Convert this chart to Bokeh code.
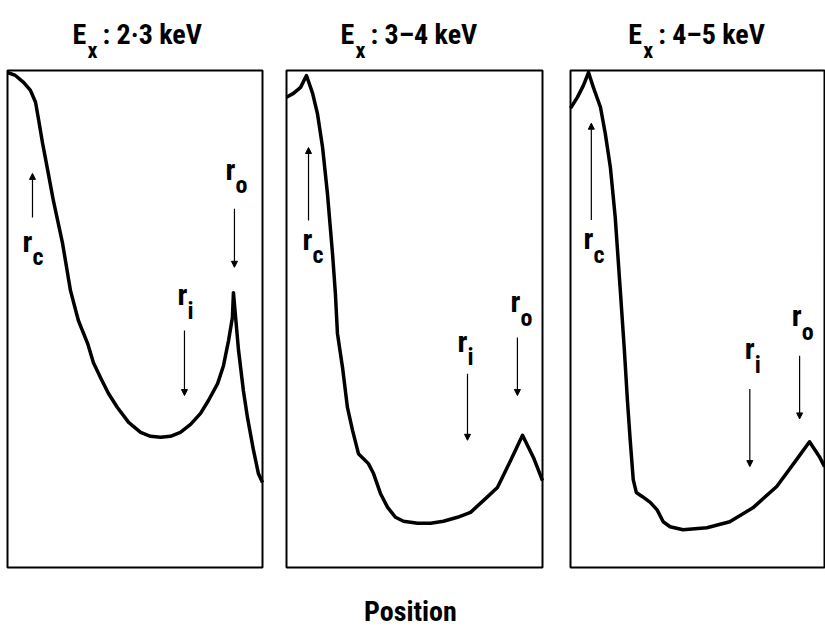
import numpy as np
from bokeh.plotting import figure
from bokeh.models import Range1d, ColumnDataSource, Arrow, NormalHead
from bokeh.layouts import row
from bokeh.core.properties import value
from bokeh.embed import file_html
from bokeh.resources import INLINE

# ---------------- data (normalised position / intensity) ----
energy_labels = ["2·3 keV", "3–4 keV", "4–5 keV"]
x_label = "Position"

pos_1 = [0.0, 0.031, 0.063, 0.090, 0.110, 0.122, 0.137, 0.157, 0.180, 0.216, 0.247,
         0.278, 0.314, 0.337, 0.365, 0.396, 0.431, 0.475, 0.522, 0.561, 0.600, 0.639,
         0.678, 0.718, 0.757, 0.788, 0.824, 0.847, 0.867, 0.882, 0.886,
         0.906, 0.925, 0.941, 0.965, 0.984, 1.0]
int_1 = [0.996, 0.990, 0.976, 0.960, 0.936, 0.901, 0.855, 0.801, 0.738, 0.652, 0.557,
         0.497, 0.451, 0.412, 0.382, 0.350, 0.322, 0.292, 0.272, 0.264, 0.262, 0.264,
         0.272, 0.288, 0.310, 0.336, 0.370, 0.406, 0.457, 0.503, 0.553,
         0.437, 0.356, 0.302, 0.235, 0.189, 0.171]

pos_2 = [0.0, 0.027, 0.055, 0.078, 0.102, 0.121, 0.141, 0.160, 0.180, 0.191, 0.199,
         0.219, 0.238, 0.258, 0.281, 0.320, 0.340, 0.367, 0.395, 0.426, 0.457, 0.512,
         0.563, 0.613, 0.668, 0.719, 0.770, 0.824, 0.875, 0.922, 0.965, 1.0]
int_2 = [0.946, 0.954, 0.966, 0.990, 0.954, 0.913, 0.845, 0.752, 0.630, 0.551, 0.471,
         0.402, 0.322, 0.276, 0.229, 0.209, 0.189, 0.149, 0.121, 0.101, 0.093, 0.089,
         0.089, 0.093, 0.101, 0.111, 0.135, 0.161, 0.215, 0.266, 0.221, 0.175]

pos_3 = [0.0, 0.027, 0.051, 0.071, 0.090, 0.118, 0.137, 0.157, 0.176, 0.196, 0.212,
         0.224, 0.235, 0.247, 0.259, 0.282, 0.314, 0.341, 0.365, 0.392, 0.443, 0.537,
         0.627, 0.718, 0.812, 0.890, 0.941, 0.980, 1.0]
int_3 = [0.924, 0.946, 0.970, 0.996, 0.966, 0.926, 0.873, 0.805, 0.705, 0.558, 0.438,
         0.337, 0.257, 0.177, 0.151, 0.143, 0.131, 0.116, 0.092, 0.082, 0.076, 0.080,
         0.092, 0.120, 0.163, 0.217, 0.253, 0.223, 0.203]

radius_names = ["c", "i", "o"]
# arrow position and extent for r_c, r_i, r_o in each panel
arrow_x_1 = [0.098, 0.694, 0.890]
arrow_from_1 = [0.704, 0.477, 0.722]
arrow_to_1 = [0.793, 0.346, 0.604]
arrow_x_2 = [0.086, 0.707, 0.902]
arrow_from_2 = [0.698, 0.390, 0.463]
arrow_to_2 = [0.845, 0.256, 0.346]
arrow_x_3 = [0.082, 0.706, 0.902]
arrow_from_3 = [0.699, 0.359, 0.426]
arrow_to_3 = [0.894, 0.203, 0.299]
# label anchors (left edge / baseline of the "r")
label_x_1 = [0.059, 0.667, 0.855]
label_y_1 = [0.638, 0.531, 0.783]
label_x_2 = [0.0625, 0.668, 0.875]
label_y_2 = [0.642, 0.437, 0.517]
label_x_3 = [0.051, 0.686, 0.871]
label_y_3 = [0.643, 0.422, 0.488]

curves = [(pos_1, int_1), (pos_2, int_2), (pos_3, int_3)]
arrows = [(arrow_x_1, arrow_from_1, arrow_to_1),
          (arrow_x_2, arrow_from_2, arrow_to_2),
          (arrow_x_3, arrow_from_3, arrow_to_3)]
labels = [(label_x_1, label_y_1), (label_x_2, label_y_2), (label_x_3, label_y_3)]

# ---------------- layout (screen pixels) ----------------
FONT = value("'Noto Sans Condensed', 'Liberation Sans Narrow', 'Roboto Condensed', 'Liberation Sans', sans-serif")
FIG = [(0, 274), (274, 556), (556, 825)]
BOX = [(7, 262), (286, 542), (570, 824)]
CANVAS_TOP, CANVAS_BOTTOM = 0, 632
BOX_TOP, BOX_BOTTOM = 70, 567
BOX_H = BOX_BOTTOM - BOX_TOP
TITLE_X = [0.255, 0.211, 0.227]
TITLE_BASE = 43
XLABEL_BASE = 620
XLABEL_X = 0.484
LIFT = -9      # baseline correction (px) for rendered text
SUB_DROP = 16  # subscript drop below the main baseline (px)


def ypix(py):
    return (BOX_BOTTOM - py) / BOX_H


figs = []
for k in range(3):
    fl, fr = FIG[k]
    bl, br = BOX[k]
    bw = br - bl
    p = figure(width=fr - fl, height=CANVAS_BOTTOM - CANVAS_TOP,
               x_range=Range1d((fl - bl) / bw, (fr - bl) / bw),
               y_range=Range1d(ypix(CANVAS_BOTTOM), ypix(CANVAS_TOP)),
               output_backend="svg", toolbar_location=None,
               x_axis_location=None, y_axis_location=None,
               min_border=0)
    p.grid.visible = False
    p.outline_line_color = None
    p.background_fill_color = "white"
    p.border_fill_color = "white"

    # panel box
    p.quad(left=[0], right=[1], bottom=[0], top=[1], fill_color=None,
           line_color="black", line_width=2)

    # curve
    xs, ys = curves[k]
    p.line(xs, ys, line_color="black", line_width=3.5, line_join="round")

    # arrows
    ax, af, at = arrows[k]
    src = ColumnDataSource(dict(x=ax, y0=af, y1=at))
    p.add_layout(Arrow(end=NormalHead(size=6, fill_color="black", line_color="black", line_width=1),
                       x_start="x", y_start="y0", x_end="x", y_end="y1",
                       line_color="black", line_width=1.2, source=src))

    # radius labels r_c, r_i, r_o
    lx, ly = labels[k]
    p.text(x=lx, y=ly, text=["r"] * 3, text_font=FONT, text_font_style="bold",
           text_font_size="30px", text_align="left", text_baseline="alphabetic",
           y_offset=LIFT, text_color="black")
    p.text(x=lx, y=ly, text=radius_names, text_font=FONT, text_font_style="bold",
           text_font_size="24px", text_align="left", text_baseline="alphabetic",
           x_offset=10, y_offset=LIFT + SUB_DROP, text_color="black")

    # title  E_x : ...
    ty = ypix(TITLE_BASE)
    tx = TITLE_X[k]
    p.text(x=[tx], y=[ty], text=["E"], text_font=FONT, text_font_style="bold",
           text_font_size="28px", text_align="left", text_baseline="alphabetic",
           y_offset=LIFT)
    p.text(x=[tx], y=[ty], text=["x"], text_font=FONT, text_font_style="bold",
           text_font_size="22px", text_align="left", text_baseline="alphabetic",
           x_offset=15, y_offset=LIFT + SUB_DROP)
    p.text(x=[tx], y=[ty], text=[":"], text_font=FONT, text_font_style="bold",
           text_font_size="28px", text_align="left", text_baseline="alphabetic",
           x_offset=30, y_offset=LIFT)
    p.text(x=[tx], y=[ty], text=[energy_labels[k]], text_font=FONT, text_font_style="bold",
           text_font_size="28px", text_align="left", text_baseline="alphabetic",
           x_offset=44, y_offset=LIFT)

    if k == 1:
        p.text(x=[XLABEL_X], y=[ypix(XLABEL_BASE)], text=[x_label], text_font=FONT,
               text_font_style="bold", text_font_size="28px", text_align="center",
               text_baseline="alphabetic", y_offset=LIFT)
    figs.append(p)

layout = row(*figs, spacing=0)
open("out.html", "w").write(file_html(layout, INLINE))
